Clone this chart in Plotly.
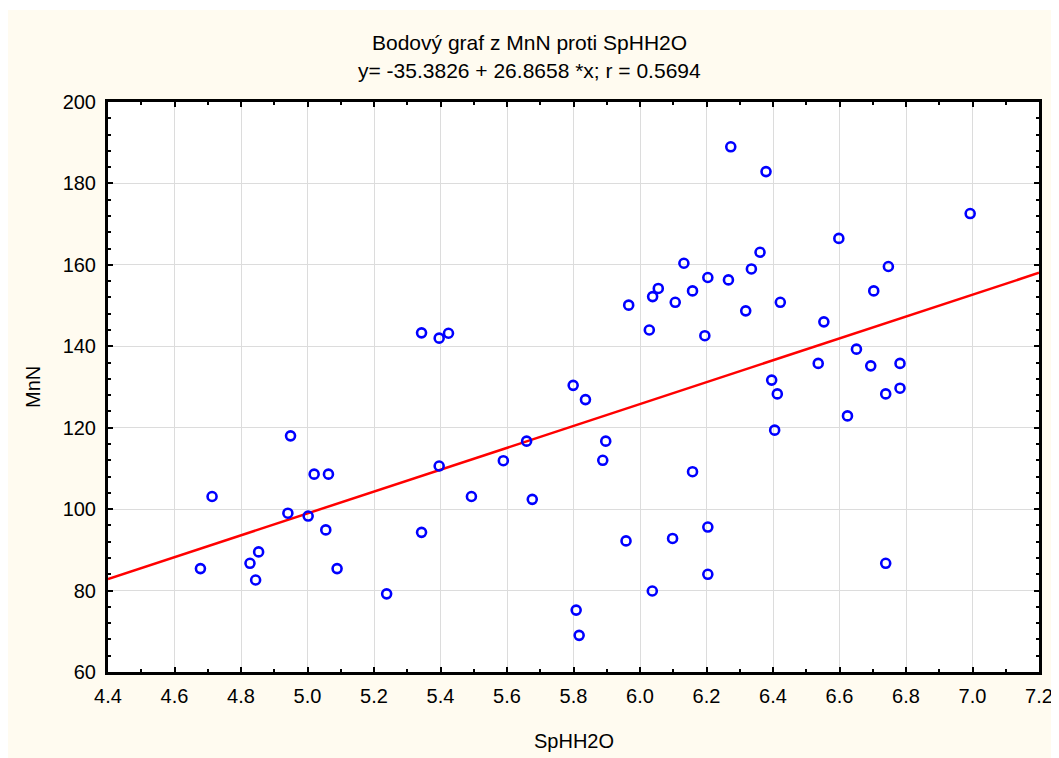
import plotly.graph_objects as go

# Data
sphh2o = [5.343, 5.396, 5.424,
          6.273, 6.379, 6.993, 6.598, 6.361, 6.747, 6.132, 6.204, 6.335, 6.266,
          6.158, 6.055, 6.038, 5.966, 6.106, 6.703, 6.318, 6.422, 6.028, 6.195,
          6.553, 6.651, 6.536, 6.694, 6.782, 5.799, 6.396,
          5.836, 6.413, 6.739, 6.782, 6.624, 6.405, 5.897, 5.888, 6.158, 6.204,
          6.098, 5.958, 6.739, 6.204, 6.037, 5.808, 5.817,
          4.949, 4.713, 5.020, 5.063, 4.941, 5.002, 5.055, 4.853, 4.827, 4.678,
          4.844, 5.089, 5.238, 5.343, 5.396, 5.493, 5.589, 5.659, 5.676]
mnn = [143.3, 142.0, 143.2,
       189.0, 182.9, 172.6, 166.5, 163.1, 159.6, 160.4, 156.9, 159.0, 156.3,
       153.6, 154.2, 152.2, 150.1, 150.8, 153.6, 148.7, 150.8, 144.0, 142.6,
       146.0, 139.3, 135.8, 135.2, 135.8, 130.4, 131.7,
       126.9, 128.3, 128.3, 129.7, 122.9, 119.4, 116.7, 112.0, 109.2, 95.6,
       92.8, 92.2, 86.7, 84.0, 79.9, 75.2, 69.0,
       118.0, 103.1, 108.6, 108.6, 99.0, 98.3, 94.9, 89.5, 86.7, 85.4,
       82.6, 85.4, 79.2, 94.3, 110.6, 103.1, 111.9, 116.7, 102.4]

intercept = -35.3826
slope = 26.8658
r_value = 0.5694
x_range = [4.4, 7.2]
y_range = [60, 200]
line_x = x_range
line_y = [intercept + slope * v for v in line_x]

title1 = "Bodový graf z MnN proti SpHH2O"
title2 = "y= -35.3826 + 26.8658 *x; r = 0.5694"
x_title = "SpHH2O"
y_title = "MnN"

FONT = "Liberation Sans, Arial, sans-serif"
CREAM = "#FFFBF0"

fig = go.Figure()
fig.add_trace(go.Scatter(
    x=line_x, y=line_y, mode="lines",
    line=dict(color="#FF0000", width=2.5),
    hoverinfo="skip", showlegend=False))
fig.add_trace(go.Scatter(
    x=sphh2o, y=mnn, mode="markers",
    marker=dict(symbol="circle-open", size=9, color="#0000FF",
                line=dict(width=2.6, color="#0000FF")),
    showlegend=False))

axis_common = dict(
    showline=True, linecolor="black", linewidth=3, mirror="allticks",
    ticks="inside", ticklen=5, tickwidth=2, tickcolor="black",
    showgrid=True, gridcolor="#DCDCDC", gridwidth=1,
    zeroline=False,
    tickfont=dict(family=FONT, size=20, color="black"),
)

fig.update_xaxes(
    range=x_range, dtick=0.2, tick0=4.4, tickformat=".1f",
    minor=dict(dtick=0.1, ticks="inside", ticklen=3, tickwidth=2,
               tickcolor="black", showgrid=False),
    ticklabelstandoff=4,
    **axis_common)
fig.update_yaxes(
    range=y_range, dtick=20, tick0=60,
    minor=dict(dtick=4, ticks="inside", ticklen=3, tickwidth=2,
               tickcolor="black", showgrid=False),
    ticklabelstandoff=5,
    **axis_common)

annots = [
    dict(text=title1, x=0.453, y=1.105, xref="paper", yref="paper",
         showarrow=False, font=dict(family=FONT, size=21, color="black"),
         xanchor="center", yanchor="middle"),
    dict(text=title2, x=0.453, y=1.056, xref="paper", yref="paper",
         showarrow=False, font=dict(family=FONT, size=21, color="black"),
         xanchor="center", yanchor="middle"),
    dict(text=x_title, x=0.5, y=-0.121, xref="paper", yref="paper",
         showarrow=False, font=dict(family=FONT, size=20, color="black"),
         xanchor="center", yanchor="middle"),
    dict(text=y_title, x=-0.0806, y=0.5, xref="paper", yref="paper",
         showarrow=False, textangle=-90,
         font=dict(family=FONT, size=20, color="black"),
         xanchor="center", yanchor="middle"),
]

# a thin white strip at the top edge (the page margin supplies the rest)
shapes = [
    dict(type="rect", xref="paper", yref="paper",
         x0=-0.2, x1=1.1, y0=(672 - 10) / 570, y1=1.3,
         fillcolor="white", line=dict(width=0), layer="below"),
]

# The page body has an 8px margin, so the figure is 8px smaller and offset.
fig.update_layout(
    width=1051, height=750,
    margin=dict(l=100, r=20, t=94, b=86, autoexpand=False),
    paper_bgcolor=CREAM, plot_bgcolor="white",
    annotations=annots, shapes=shapes,
    font=dict(family=FONT, color="black"),
)

fig.write_html("out.html")
